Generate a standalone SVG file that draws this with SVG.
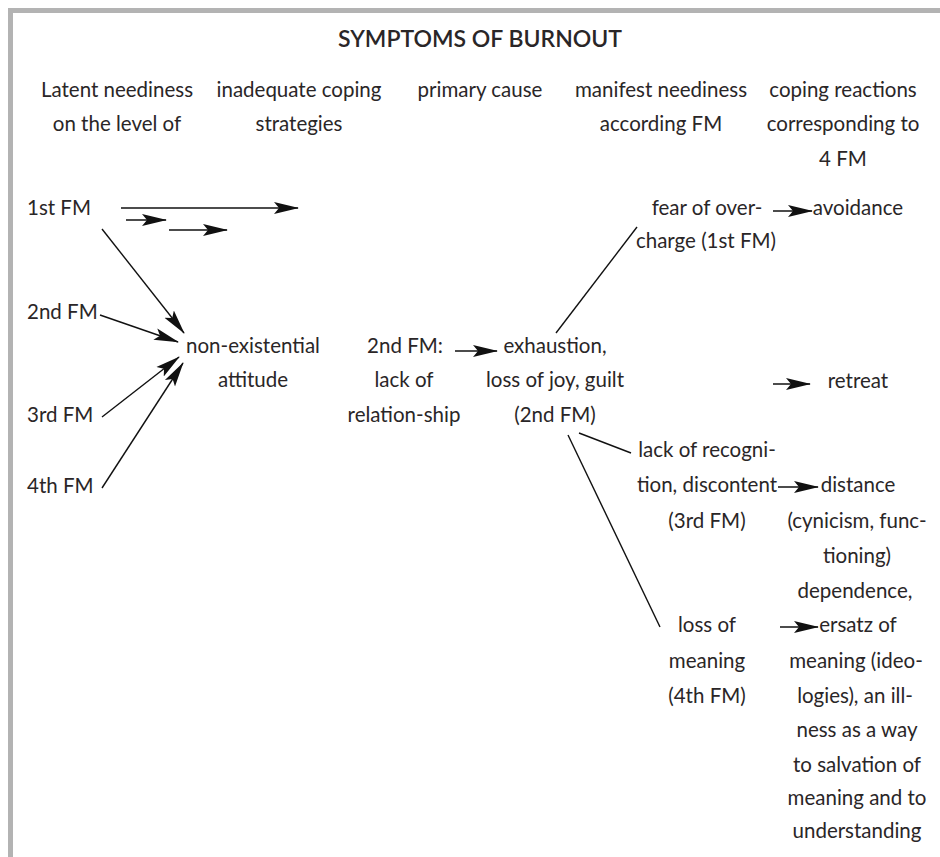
<svg xmlns="http://www.w3.org/2000/svg" width="940" height="857" viewBox="0 0 940 857">
<style>
text{font-family:Lato,"Open Sans","Liberation Sans",sans-serif;font-size:20.5px;fill:#2a2627}
.c{text-anchor:middle}
.title{font-size:23px;font-weight:600}
.con line{stroke:#111;stroke-width:1.4}
.arr{marker-end:url(#ah)}
</style>
<defs>
<marker id="ah" markerUnits="userSpaceOnUse" markerWidth="25" markerHeight="14" viewBox="0 0 25 14" refX="24" refY="7" orient="auto">
<path d="M0,1 L25,7 L0,13 L5,7 z" fill="#111"/>
</marker>
</defs>
<rect width="940" height="857" fill="#fff"/>
<path d="M10.5,857 V10.5 H940" fill="none" stroke="#b3b3b3" stroke-width="5"/>
<text class="c title" x="480" y="47">SYMPTOMS OF BURNOUT</text>
<g id="headers" class="c">
<text class="c" x="117" y="97">Latent neediness</text>
<text class="c" x="117" y="131">on the level of</text>
<text class="c" x="299" y="97">inadequate coping</text>
<text class="c" x="299" y="131">strategies</text>
<text class="c" x="480" y="97">primary cause</text>
<text class="c" x="661" y="97">manifest neediness</text>
<text class="c" x="661" y="131">according FM</text>
<text class="c" x="843" y="97">coping reactions</text>
<text class="c" x="843" y="131">corresponding to</text>
<text class="c" x="843" y="166">4 FM</text>
</g>
<g id="fm1"><text x="27" y="215">1st FM</text></g>
<g id="fm2"><text x="27" y="319">2nd FM</text></g>
<g id="fm3"><text x="27" y="422">3rd FM</text></g>
<g id="fm4"><text x="27" y="493">4th FM</text></g>
<g id="nonexist"><text class="c" x="253" y="353">non-existential</text><text class="c" x="253" y="387">attitude</text></g>
<g id="primary"><text class="c" x="405" y="353">2nd FM:</text><text class="c" x="404" y="387">lack of</text><text class="c" x="404" y="422">relation-ship</text></g>
<g id="exhaustion"><text class="c" x="555" y="353">exhaustion,</text><text class="c" x="555" y="387">loss of joy, guilt</text><text class="c" x="555" y="422">(2nd FM)</text></g>
<g id="fear"><text class="c" x="707" y="215">fear of over-</text><text class="c" x="706" y="248">charge (1st FM)</text></g>
<g id="avoidance"><text class="c" x="858" y="215">avoidance</text></g>
<g id="retreat"><text class="c" x="858" y="388">retreat</text></g>
<g id="recognition"><text class="c" x="707" y="457">lack of recogni-</text><text class="c" x="707" y="492">tion, discontent</text><text class="c" x="707" y="528">(3rd FM)</text></g>
<g id="distance"><text class="c" x="858" y="492">distance</text><text class="c" x="857" y="528">(cynicism, func-</text><text class="c" x="857" y="563">tioning)</text></g>
<g id="meaningloss"><text class="c" x="707" y="632">loss of</text><text class="c" x="707" y="668">meaning</text><text class="c" x="707" y="703">(4th FM)</text></g>
<g id="dependence"><text class="c" x="855" y="598">dependence,</text><text class="c" x="858" y="632">ersatz of</text><text class="c" x="856" y="668">meaning (ideo-</text><text class="c" x="855" y="703">logies), an ill-</text><text class="c" x="857" y="737">ness as a way</text><text class="c" x="857" y="772">to salvation of</text><text class="c" x="857" y="805">meaning and to</text><text class="c" x="857" y="838">understanding</text></g>
<g id="connectors" class="con">
<line class="arr" x1="121" y1="208" x2="298" y2="208"/>
<line class="arr" x1="126" y1="220" x2="166" y2="220"/>
<line class="arr" x1="169" y1="230" x2="227" y2="230"/>
<line class="arr" x1="102" y1="229" x2="184" y2="333"/>
<line class="arr" x1="100" y1="315" x2="178" y2="342"/>
<line class="arr" x1="102" y1="417" x2="179" y2="357"/>
<line class="arr" x1="102" y1="488" x2="183" y2="363"/>
<line class="arr" x1="455" y1="351" x2="497" y2="351"/>
<line class="arr" x1="773" y1="211" x2="812" y2="211"/>
<line class="arr" x1="773" y1="384" x2="810" y2="384"/>
<line class="arr" x1="778" y1="487" x2="818" y2="487"/>
<line class="arr" x1="780" y1="627" x2="818" y2="627"/>
<line x1="556" y1="333" x2="637" y2="227"/>
<line x1="579" y1="433" x2="631" y2="453"/>
<line x1="568" y1="435" x2="660" y2="627"/>
</g>
</svg>
